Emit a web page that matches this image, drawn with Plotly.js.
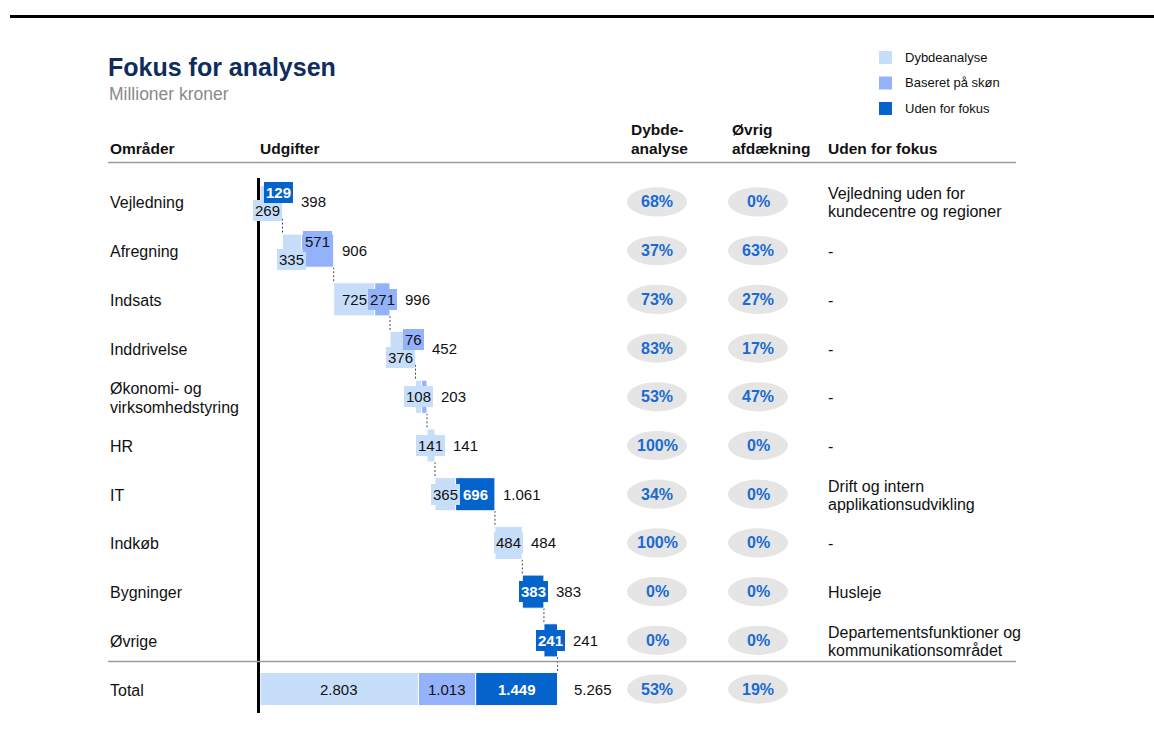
<!DOCTYPE html>
<html>
<head>
<meta charset="utf-8">
<script src="https://cdn.plot.ly/plotly-3.0.1.min.js"></script>
<style>html,body{margin:0;padding:0;background:#fff;}#chart{width:1154px;height:732px;}</style>
</head>
<body>
<div id="chart"></div>
<script>
// ---------- DATA ----------
const categories = ['Vejledning', 'Afregning', 'Indsats', 'Inddrivelse', 'Økonomi- og<br>virksomhedstyring', 'HR', 'IT', 'Indkøb', 'Bygninger', 'Øvrige'];
const totalCategory = 'Total';
const dybdeanalyse   = [269, 335, 725, 376, 108, 141, 365, 484, 0, 0];
const baseretPaaSkoen = [0, 571, 271, 76, 95, 0, 0, 0, 0, 0];
const udenForFokus   = [129, 0, 0, 0, 0, 0, 696, 0, 383, 241];
const udenForFokusNote = ['Vejledning uden for<br>kundecentre og regioner', '-', '-', '-', '-', '-',
  'Drift og intern<br>applikationsudvikling', '-', 'Husleje', 'Departementsfunktioner og<br>kommunikationsområdet'];
const seriesNames = ['Dybdeanalyse', 'Baseret på skøn', 'Uden for fokus'];
const headerTexts = ['Områder', 'Udgifter', 'Dybde-<br>analyse', 'Øvrig<br>afdækning', 'Uden for fokus'];
const titleText = 'Fokus for analysen';
const subtitleText = 'Millioner kroner';
const hiddenSegmentLabels = [[4, 1]]; // row, series index without label

// ---------- STYLE ----------
const W = 1154, H = 732;
const colors = ['#c6defa', '#94b2fb', '#0563cc'];
const FONT = 'Liberation Sans, Arial, Helvetica, sans-serif';
const xDomPx = [260, 620];
const xRange = [0, 6370];
const scale = (xDomPx[1] - xDomPx[0]) / (xRange[1] - xRange[0]);
const yDomPx = [177.6, 713.4];
const barWidth = 0.68;
const px = v => v / W;
const py = v => 1 - v / H;
const xpx = v => xDomPx[0] + v * scale;

function fmt(n) {
  return String(Math.round(n)).replace(/\B(?=(\d{3})+(?!\d))/g, '.');
}
function textW(s, fs) {
  let w = 0;
  for (const c of s) w += (c === '.' ? 0.278 : 0.556);
  return w * fs;
}

// ---------- DERIVED ----------
const n = categories.length;
const allY = categories.concat([totalCategory]);
const series = [dybdeanalyse, baseretPaaSkoen, udenForFokus];
const totals = series.map(s => s.reduce((a, b) => a + b, 0));
const grand = totals.reduce((a, b) => a + b, 0);

const rowStart = [], rowEnd = [];
let acc = 0;
for (let i = 0; i < n; i++) {
  rowStart.push(acc);
  acc += dybdeanalyse[i] + baseretPaaSkoen[i] + udenForFokus[i];
  rowEnd.push(acc);
}

const rowVals = i => (i < n ? series.map(s => s[i]) : totals.slice());
const rowBase0 = i => (i < n ? rowStart[i] : 0);

const traces = series.map((s, k) => {
  const xs = [], bs = [];
  for (let i = 0; i <= n; i++) {
    const v = rowVals(i);
    let b = rowBase0(i);
    for (let j = 0; j < k; j++) b += v[j];
    xs.push(v[k] > 0 ? v[k] : null);
    bs.push(b);
  }
  return {
    type: 'bar', orientation: 'h', name: seriesNames[k],
    y: allY, x: xs, base: bs, width: barWidth,
    marker: { color: colors[k], line: { color: '#ffffff', width: 1 } },
    hoverinfo: 'skip', showlegend: false
  };
});

const annotations = [];
const shapes = [];

// segment labels + row totals
for (let i = 0; i <= n; i++) {
  const v = rowVals(i);
  const rowSum = v[0] + v[1] + v[2];
  let b = rowBase0(i);
  const labs = [];
  for (let k = 0; k < 3; k++) {
    if (v[k] > 0) {
      const hidden = hiddenSegmentLabels.some(h => h[0] === i && h[1] === k);
      if (!hidden) {
        const c = b + v[k] / 2;
        labs.push({ k, c, cpx: xpx(c), txt: fmt(v[k]), half: textW(fmt(v[k]), 15) / 2 + 2 });
      }
    }
    b += v[k];
  }
  const shifts = labs.map(() => 0);
  if (i < n && labs.length === 2) {
    const d = labs[1].cpx - labs[0].cpx;
    if (d < labs[0].half + labs[1].half - 2) { shifts[0] = -9; shifts[1] = 9; }
  }
  labs.forEach((L, j) => {
    const dark = L.k === 2;
    annotations.push({
      x: L.c, y: i, xref: 'x', yref: 'y', text: dark ? '<b>' + L.txt + '</b>' : L.txt,
      showarrow: false, bgcolor: colors[L.k], borderpad: 2, borderwidth: 0,
      font: { family: FONT, size: 15, color: dark ? '#ffffff' : '#111111' },
      xanchor: 'center', yanchor: 'middle', yshift: shifts[j]
    });
  });
  const endV = i < n ? rowEnd[i] : grand;
  let xs;
  if (i < n) {
    const last = labs[labs.length - 1];
    const boxEnd = last ? last.cpx + last.half : 0;
    xs = Math.max(0, boxEnd - xpx(endV)) + 6;
  } else {
    xs = 14;
  }
  annotations.push({
    x: endV, y: i, xref: 'x', yref: 'y', text: fmt(rowSum), showarrow: false,
    xanchor: 'left', yanchor: 'middle', xshift: xs,
    font: { family: FONT, size: 15, color: '#111111' }
  });
}

// dashed connectors
for (let i = 0; i < n; i++) {
  shapes.push({
    type: 'line', xref: 'x', yref: 'y', x0: rowEnd[i], x1: rowEnd[i],
    y0: i + barWidth / 2, y1: i + 1 - barWidth / 2, layer: 'below',
    line: { color: '#444444', width: 1, dash: '2px,2px' }
  });
}

// multi-line helper
function addLines(text, xPaper, yVal, yref, baseShift, opts, spacing) {
  const lines = text.split('<br>');
  const m = lines.length;
  lines.forEach((t, k) => {
    annotations.push(Object.assign({
      x: xPaper, y: yVal, xref: 'paper', yref: yref, text: t, showarrow: false,
      xanchor: 'left', yanchor: 'middle',
      yshift: baseShift + ((m - 1) / 2 - k) * spacing
    }, opts));
  });
}

// category labels, percentage pills, notes
for (let i = 0; i <= n; i++) {
  const label = i < n ? categories[i] : totalCategory;
  addLines(label, px(108), i, 'y', -1, { font: { family: FONT, size: 16, color: '#111111' } }, 19);
  const v = rowVals(i);
  const tot = v[0] + v[1] + v[2];
  const pcts = [Math.round(v[0] / tot * 100) + '%', Math.round(v[1] / tot * 100) + '%'];
  [657, 758].forEach((cx, j) => {
    shapes.push({
      type: 'circle', xref: 'paper', yref: 'y', x0: px(cx - 30), x1: px(cx + 30),
      y0: i - 0.3, y1: i + 0.3, fillcolor: '#e5e5e5', line: { width: 0 }
    });
    annotations.push({
      x: px(cx), y: i, xref: 'paper', yref: 'y', text: '<b>' + pcts[j] + '</b>', showarrow: false,
      xanchor: 'center', yanchor: 'middle', font: { family: FONT, size: 16, color: '#1a6ad4' }
    });
  });
  if (i < n) {
    addLines(udenForFokusNote[i], px(826), i, 'y', -1, { font: { family: FONT, size: 16, color: '#111111' } }, 18);
  }
}

// headers
const headerX = [108, 258, 629, 730, 826];
headerTexts.forEach((t, j) => {
  const lines = t.split('<br>');
  lines.forEach((ln, k) => {
    annotations.push({
      x: px(headerX[j]), y: py(148 - (lines.length - 1 - k) * 18), xref: 'paper', yref: 'paper',
      text: '<b>' + ln + '</b>', showarrow: false, xanchor: 'left', yanchor: 'middle',
      font: { family: FONT, size: 15.5, color: '#111111' }
    });
  });
});

// title / subtitle
annotations.push({
  x: px(106), y: py(67), xref: 'paper', yref: 'paper', text: '<b>' + titleText + '</b>',
  showarrow: false, xanchor: 'left', yanchor: 'middle',
  font: { family: FONT, size: 25, color: '#0e2c5e' }
});
annotations.push({
  x: px(107), y: py(94), xref: 'paper', yref: 'paper', text: subtitleText,
  showarrow: false, xanchor: 'left', yanchor: 'middle',
  font: { family: FONT, size: 17.5, color: '#8a8a8a' }
});

// legend
seriesNames.forEach((nm, k) => {
  const cy = 57.5 + k * 25.5;
  shapes.push({
    type: 'rect', xref: 'paper', yref: 'paper', x0: px(879), x1: px(892), y0: py(cy - 6.5), y1: py(cy + 6.5),
    fillcolor: colors[k], line: { width: 0 }
  });
  annotations.push({
    x: px(903), y: py(cy), xref: 'paper', yref: 'paper', text: nm, showarrow: false,
    xanchor: 'left', yanchor: 'middle', font: { family: FONT, size: 13, color: '#111111' }
  });
});

// rules
shapes.push({ type: 'line', xref: 'paper', yref: 'paper', x0: px(10), x1: px(1154), y0: py(16.5), y1: py(16.5), line: { color: '#000000', width: 3 } });
shapes.push({ type: 'line', xref: 'paper', yref: 'paper', x0: px(108), x1: px(1016), y0: py(162.5), y1: py(162.5), line: { color: '#9a9a9a', width: 1.5 } });
shapes.push({ type: 'line', xref: 'paper', yref: 'paper', x0: px(108), x1: px(1016), y0: py(661.5), y1: py(661.5), line: { color: '#9a9a9a', width: 1.5 } });

const layout = {
  width: W, height: H,
  margin: { l: 0, r: 0, t: 0, b: 0, pad: 0 },
  paper_bgcolor: '#ffffff', plot_bgcolor: 'rgba(0,0,0,0)',
  barmode: 'overlay', showlegend: false,
  xaxis: { domain: [px(xDomPx[0]), px(xDomPx[1])], range: xRange, visible: false, fixedrange: true },
  yaxis: {
    domain: [py(yDomPx[1]), py(yDomPx[0])], type: 'category', categoryorder: 'array', categoryarray: allY,
    range: [n + 0.5, -0.5], showticklabels: false, showgrid: false, zeroline: false, ticks: '',
    showline: true, linecolor: '#000000', linewidth: 3, fixedrange: true
  },
  annotations: annotations,
  shapes: shapes,
  font: { family: FONT }
};

Plotly.newPlot('chart', traces, layout, { staticPlot: true, displayModeBar: false });
</script>
</body>
</html>
